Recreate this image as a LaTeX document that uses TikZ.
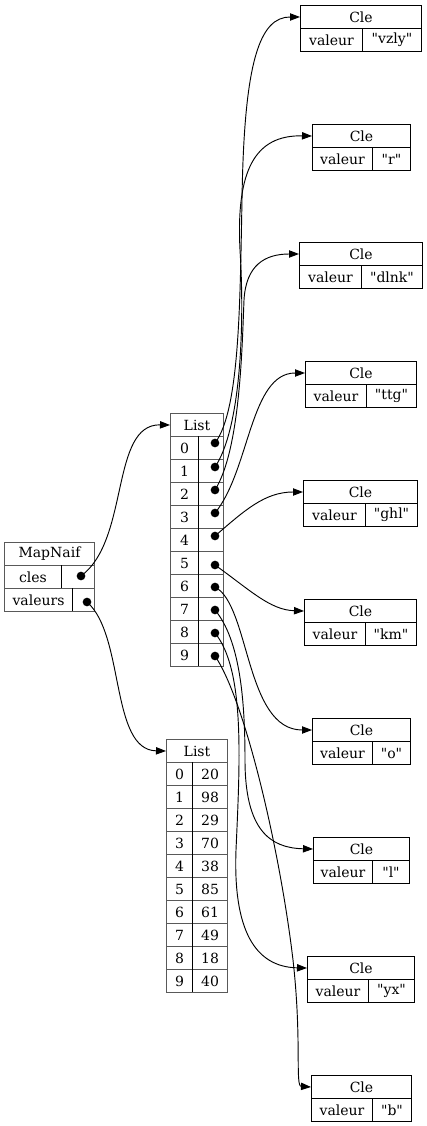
\documentclass[tikz,border=0pt]{standalone}
\usepackage{fontspec}
\setmainfont{DejaVu Serif}[Ligatures=TeXOff]
\usepackage{tikz}
\usetikzlibrary{arrows.meta}

\tikzset{
  cell/.style={draw=black!65, line width=0.75pt, inner sep=0pt, minimum height=17.25pt,
    anchor=north west, font=\fontsize{10.5}{12}\selectfont},
  clecell/.style={cell, draw=black},
  dotn/.style={circle, fill=black, inner sep=0pt, minimum size=6.5pt},
  ptr/.style={line width=0.7pt, -{Triangle[length=7.5pt,width=5.5pt]}}
}

\begin{document}
\begin{tikzpicture}[x=0.75pt,y=-0.75pt]
\useasboundingbox (0,0) rectangle (427,1126);

% MapNaif
\node[cell, minimum width=67.5pt] (map) at (4,542) {MapNaif};
\node[cell, minimum width=42.75pt] (mcles) at (4,565) {cles};
\node[cell, minimum width=24.75pt] (mclesp) at (61,565) {};
\node[cell, minimum width=51pt] (mval) at (4,588) {valeurs};
\node[cell, minimum width=16.5pt] (mvalp) at (72,588) {};
\draw[black] (61,565) -- (61,588) (72,588) -- (72,611);
\node[dotn] (dcles) at (81,576) {};
\node[dotn] (dval) at (87,602) {};

% List of keys
\node[cell, minimum width=39.75pt] (keys) at (170,413) {List};
\foreach \i/\dy in {0/443,1/467,2/490,3/513,4/536,5/565,6/587,7/610,8/633,9/656} {
  \node[cell, minimum width=21pt] (ki\i) at (170,{436+23*\i}) {\i};
  \node[cell, minimum width=18.75pt] (kp\i) at (198,{436+23*\i}) {};
  \node[dotn] (d\i) at (215,\dy) {};
}
\draw[black, line width=0.75pt] (198,436) -- (198,666);

% List of values
\node[cell, minimum width=45.75pt] (vals) at (166,739) {List};
\foreach \i/\v in {0/20,1/98,2/29,3/70,4/38,5/85,6/61,7/49,8/18,9/40} {
  \node[cell, minimum width=19.5pt] (vi\i) at (166,{762+23*\i}) {\i};
  \node[cell, minimum width=26.25pt] (vv\i) at (192,{762+23*\i}) {\v};
}
\draw[black, line width=0.75pt] (192,762) -- (192,992);

% Cle tables
\foreach \i/\xl/\xs/\xr/\yt/\txt in {0/300/362/421/5/vzly,1/312/372/410/124/r,
    2/299/361/422/242/dlnk,3/305/366/416/361/ttg,4/303/365/417/480/ghl,
    5/304/365/416/599/km,6/312/372/410/718/o,7/313/372/409/837/l,
    8/307/368/414/956/yx,9/311/372/411/1075/b} {
  \node[clecell, minimum width={(\xr-\xl)*0.75pt}] (cle\i) at (\xl,\yt) {Cle};
  \node[clecell, minimum width={(\xs-\xl)*0.75pt}] (cv\i) at (\xl,\yt+23) {valeur};
  \node[clecell, minimum width={(\xr-\xs)*0.75pt}] (cs\i) at (\xs,\yt+23) {"\txt"};
}

% pointers from the map
\draw[ptr] (dcles.center) .. controls (130,540) and (110,424) .. (keys.west);
\draw[ptr] (dval.center) .. controls (125,635) and (110,750) .. (vals.west);

% pointers from the keys
\draw[ptr] (d0.center) .. controls (240,410) and (240,300) .. (242,200)
  .. controls (244,60) and (260,17) .. (cle0.west);
\draw[ptr] (d1.center) .. controls (240,430) and (245,330) .. (240,250)
  .. controls (236,170) and (255,135) .. (cle1.west);
\draw[ptr] (d2.center) .. controls (240,450) and (242,350) .. (244,300)
  .. controls (246,265) and (265,254) .. (cle2.west);
\draw[ptr] (d3.center) .. controls (250,470) and (250,373) .. (cle3.west);
\draw[ptr] (d4.center) .. controls (245,510) and (265,492) .. (cle4.west);
\draw[ptr] (d5.center) .. controls (250,590) and (270,610) .. (cle5.west);
\draw[ptr] (d6.center) .. controls (250,605) and (245,730) .. (cle6.west);
\draw[ptr] (d7.center) .. controls (240,640) and (245,700) .. (245,760)
  .. controls (245,830) and (270,848) .. (cle7.west);
\draw[ptr] (d8.center) .. controls (245,670) and (240,760) .. (236,850)
  .. controls (233,930) and (255,967) .. (cle8.west);
\draw[ptr] (d9.center) .. controls (245,700) and (280,850) .. (293,960)
  .. controls (302,1040) and (295,1086) .. (cle9.west);
\end{tikzpicture}
\end{document}
